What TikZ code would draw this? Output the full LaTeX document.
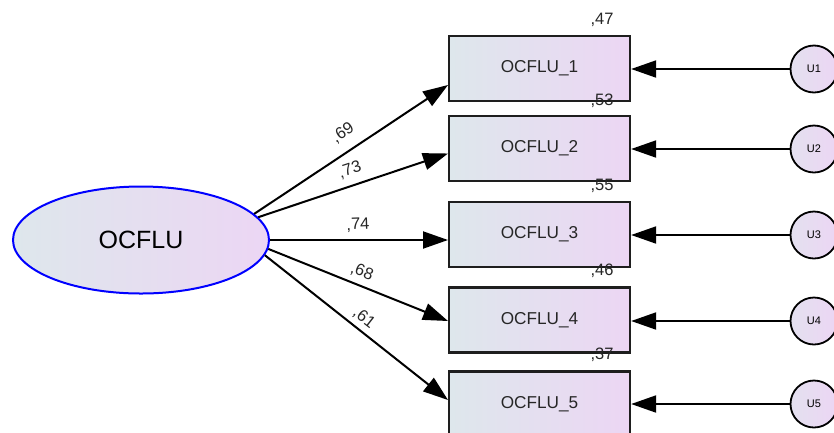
\documentclass[tikz,border=0pt]{standalone}
\usepackage{fontspec}
\setmainfont{Liberation Sans}
\usetikzlibrary{shapes.geometric,arrows.meta}
\definecolor{gl}{RGB}{222,231,236}
\definecolor{gr}{RGB}{236,214,244}
\definecolor{bx}{RGB}{30,30,30}
\tikzset{
  obs/.style={draw=bx, line width=2.3pt, rectangle, minimum width=181pt, minimum height=65pt, inner sep=0pt,
     left color=gl, right color=gr, font=\fontsize{17.2}{17}\selectfont, text=black!85},
  lat/.style={draw=blue, line width=2pt, ellipse, minimum width=256pt, minimum height=107pt, inner sep=0pt,
     left color=gl, right color=gr, font=\fontsize{25}{25}\selectfont},
  err/.style={draw=black, line width=1.8pt, circle, minimum size=47pt, inner sep=0pt,
     left color=gl!60!gr, right color=gr, font=\fontsize{11}{11}\selectfont},
  arr/.style={line width=2pt, -{Triangle[length=25pt,width=17pt]}},
  lbl/.style={font=\fontsize{16.5}{16}\selectfont, inner sep=0pt, text=black!85}
}
\begin{document}
\begin{tikzpicture}[x=1pt,y=-1pt]
\useasboundingbox (0,0) rectangle (834,432);
\clip (0,0) rectangle (834,432);
\node[lat] (e) at (141,240) {OCFLU};
\node[obs] (b1) at (539.5,68.5) {OCFLU\_1};
\node[obs] (b2) at (539.5,148.5) {OCFLU\_2};
\node[obs] (b3) at (539.5,234.5) {OCFLU\_3};
\node[obs] (b4) at (539.5,320) {OCFLU\_4};
\node[obs] (b5) at (539.5,404) {OCFLU\_5};
\node[err] (u1) at (814,69) {U1};
\node[err] (u2) at (814,149) {U2};
\node[err] (u3) at (814,235) {U3};
\node[err] (u4) at (814,321) {U4};
\node[err] (u5) at (814,404) {U5};
\coordinate (t1) at (448,85);
\coordinate (t2) at (448,153.5);
\coordinate (t3) at (448,240);
\coordinate (t4) at (448,321);
\coordinate (t5) at (448,400);
\draw[arr] (e.13.6) -- (t1);
\draw[arr] (e.11.9) -- (t2);
\draw[arr] (e.0) -- (t3);
\draw[arr] (e.-4.6) -- (t4);
\draw[arr] (e.-7) -- (t5);
\foreach \i in {1,...,5}{
  \draw[arr] (u\i) -- (u\i -| b\i.east);
}
\node[lbl, rotate=33] (l1) at (343,133) {,69};
\node[lbl, rotate=18] (l2) at (350,170) {,73};
\node[lbl, rotate=2] (l3) at (358,225) {,74};
\node[lbl, rotate=-21] (l4) at (362,272) {,68};
\node[lbl, rotate=-38] (l5) at (364,318) {,61};
\node[lbl] (r1) at (602,20) {,47};
\node[lbl] (r2) at (602,101) {,53};
\node[lbl] (r3) at (602,186) {,55};
\node[lbl] (r4) at (602,271) {,46};
\node[lbl] (r5) at (602,355) {,37};
\end{tikzpicture}
\end{document}
